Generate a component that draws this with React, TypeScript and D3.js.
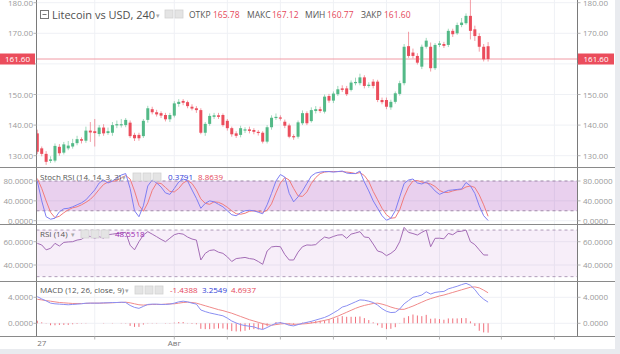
import React from 'react';
import * as d3 from 'd3';

// ---------- DATA ----------
const openP = [
  137.3,132.4,130.6,128.3,128.4,132.9,131.0,132.4,133.0,134.1,
  135.4,134.9,138.2,138.0,137.1,139.2,137.4,137.5,139.9,139.9,
  140.0,140.8,136.8,136.8,136.4,141.7,145.2,144.2,143.9,143.3,
  141.9,143.1,146.9,147.9,147.5,146.0,145.5,144.9,137.5,140.4,
  142.7,143.2,143.3,141.4,139.0,137.3,136.8,138.2,138.6,138.4,
  137.8,137.5,134.6,139.3,142.3,142.5,141.1,139.9,136.4,136.2,
  140.6,143.9,141.3,144.6,145.2,144.4,149.5,148.0,150.1,152.0,
  152.0,151.5,153.7,153.7,155.6,152.8,154.2,154.2,148.2,148.2,
  145.8,147.6,150.2,153.7,165.8,163.7,162.6,159.1,165.6,165.6,
  158.6,166.2,166.5,166.2,170.8,170.0,172.7,173.3,175.7,171.3,
  169.1,165.6,165.78,
];
const closeP = [
  131.3,130.6,128.0,128.8,133.2,130.8,133.7,133.3,134.1,135.4,
  134.9,138.2,137.6,137.4,139.2,137.3,138.0,140.0,140.3,140.3,
  141.7,136.4,135.7,135.7,141.4,145.5,144.2,143.5,143.1,141.9,
  143.3,147.1,147.6,147.3,146.2,145.4,144.9,137.5,140.4,143.0,
  143.2,142.7,140.0,139.0,137.0,136.5,139.0,138.6,138.1,137.8,
  137.5,134.6,139.3,142.4,142.7,142.2,139.8,136.2,136.0,140.9,
  143.9,140.6,144.9,145.2,144.6,149.3,148.0,150.3,151.7,151.5,
  150.1,153.9,154.1,155.6,152.8,153.2,152.8,148.2,147.5,146.0,
  147.6,150.4,153.7,165.6,162.6,162.6,160.4,165.6,167.6,158.6,
  166.2,166.7,165.9,170.8,169.7,172.7,173.5,175.7,170.8,169.1,
  165.6,161.5,161.6,
];
const highP = [
  138.5,133.0,131.5,129.8,134.0,133.8,134.5,134.8,135.5,136.5,
  136.0,139.5,141.0,142.0,140.0,140.3,139.2,141.0,141.5,142.0,
  142.3,141.5,137.5,137.5,142.0,146.3,146.0,145.0,144.5,144.0,
  144.0,147.8,148.5,148.5,148.0,146.8,146.2,145.5,141.0,143.8,
  144.0,144.0,143.8,142.0,139.5,138.0,139.8,139.3,139.5,139.0,
  138.4,138.0,140.0,143.2,143.8,143.2,141.8,140.5,137.0,141.5,
  144.8,144.5,145.8,146.2,146.0,150.0,150.2,151.0,152.8,153.0,
  152.8,154.6,155.5,156.8,156.3,154.0,155.0,154.8,149.0,149.0,
  148.3,151.0,154.5,166.5,170.5,165.0,163.5,166.3,168.5,167.0,
  166.8,167.5,167.2,171.5,171.5,173.5,175.0,176.5,181.0,172.5,
  170.0,166.5,167.12,
];
const lowP = [
  130.5,129.8,127.0,127.6,127.8,130.0,130.4,131.8,132.3,133.4,
  134.0,134.2,134.5,133.0,136.3,136.5,136.8,136.5,139.0,139.2,
  139.3,135.8,134.8,134.9,135.8,140.8,143.5,142.8,142.3,141.2,
  141.0,142.5,146.0,146.5,145.5,144.8,144.0,137.0,136.5,139.8,
  142.0,142.0,139.5,138.2,136.2,135.8,136.0,137.4,137.3,137.0,
  136.6,134.0,134.0,138.5,141.7,141.5,139.0,135.7,135.2,135.6,
  140.0,140.0,140.8,143.8,144.0,143.8,147.3,147.2,149.5,150.8,
  149.5,151.0,153.0,153.0,152.0,152.2,152.0,147.5,146.8,145.2,
  145.0,147.0,149.6,153.0,162.0,161.8,159.8,158.3,165.0,157.5,
  158.0,165.5,165.2,165.5,168.8,169.5,172.0,172.8,168.0,167.5,
  164.0,160.8,160.77,
];
const stochK = [
  80,40,8,3,5,18,24,25,28,32,
  36,42,52,62,76,82,76,80,86,92,
  95,65,20,8,30,70,82,76,68,56,
  53,65,78,84,80,62,45,25,35,40,
  38,33,28,20,12,10,16,20,21,20,
  17,14,32,55,80,93,88,55,38,48,
  60,75,90,96,98,99,99,98,99,100,
  96,95,95,100,78,60,40,25,10,1,
  5,20,48,75,82,84,76,74,78,70,
  60,53,57,61,62,63,64,77,70,55,
  30,10,0.3791,
];
const stochD = [
  85,65,40,17,6,9,16,22,26,28,
  32,37,43,52,63,73,78,79,81,86,
  91,84,60,31,19,36,61,76,75,67,
  59,58,65,76,81,75,62,44,35,33,
  38,37,33,27,20,14,13,15,19,20,
  19,17,21,34,56,76,87,82,65,50,
  49,58,75,87,95,98,99,99,99,99,
  98,97,95,97,91,79,59,42,25,12,
  5,6,22,48,68,80,81,78,76,74,
  69,61,57,57,60,62,63,68,70,67,
  52,32,8.8639,
];
const rsiV = [
  58.6,57.2,53,54.3,58.6,56.3,59.4,59.8,60,61.4,
  62,65,64.5,63,64.3,63,66,66.5,67,67.5,
  68,57,53,60,65.7,68.6,66.5,64.3,62,60,
  63,66,67.1,66.5,64,62.3,61.4,44.3,50,52.5,
  53,51,50,47,43,45.5,46,46.5,45.5,45,
  43,40.6,52,55.5,56,55.7,49,44.3,44.3,51,
  55.7,57.2,57,57.5,61,64,63,64.5,65.7,66,
  62.9,66.5,67.5,68.6,64,63.6,58,52,50.9,48,
  50,53,60,72.3,68,67,65.7,68,70,55.7,
  62.9,63,62.5,67.1,66,68.6,69,70,60,57.5,
  53,48.6,48.5518,
];
const macdV = [
  4.1,3.75,3.45,3.1,3.0,2.95,2.9,2.85,2.9,2.95,
  3.0,3.1,3.1,3.1,3.1,3.15,3.15,3.2,3.2,3.25,
  3.2,2.75,2.45,2.3,2.6,2.9,2.95,2.95,2.9,2.9,
  2.95,3.1,3.3,3.4,3.3,3.1,2.95,2.05,1.8,1.6,
  1.45,1.3,1.15,0.8,0.35,0.05,-0.2,-0.35,-0.45,-0.55,
  -0.8,-0.95,-0.65,-0.3,0.0,0.1,-0.05,-0.3,-0.4,-0.2,
  0.0,0.15,0.3,0.5,0.7,0.9,1.2,1.6,2.0,2.5,
  2.7,3.0,3.3,3.6,3.55,3.4,3.2,2.8,2.25,1.85,
  1.65,1.7,2.2,3.0,3.5,4.0,4.15,4.35,4.85,4.5,
  4.75,4.85,4.9,5.3,5.5,5.7,5.95,6.15,5.85,5.2,
  4.3,3.7,3.2549,
];
const signalV = [
  3.7,3.6,3.5,3.4,3.3,3.2,3.15,3.1,3.05,3.05,
  3.05,3.05,3.1,3.1,3.1,3.1,3.15,3.15,3.2,3.2,
  3.25,3.15,3.0,2.85,2.8,2.85,2.9,2.9,2.9,2.95,
  3.0,3.0,3.1,3.2,3.25,3.2,3.1,2.9,2.7,2.5,
  2.3,2.1,1.95,1.75,1.55,1.3,1.05,0.8,0.55,0.35,
  0.15,-0.05,-0.2,-0.3,-0.2,-0.1,-0.05,-0.1,-0.15,-0.15,
  -0.1,-0.05,0.05,0.15,0.3,0.45,0.6,0.85,1.1,1.4,
  1.7,2.0,2.3,2.55,2.75,2.9,3.05,3.1,2.95,2.75,
  2.5,2.3,2.15,2.15,2.4,2.65,2.95,3.25,3.55,3.8,
  4.0,4.2,4.35,4.55,4.75,4.95,5.15,5.35,5.55,5.6,
  5.45,5.1,4.6937,
];

const priceTicks = [130, 140, 150, 160, 170, 180];
const stochTicks = [0, 40, 80];
const stochBand = [20, 80];
const rsiTicks = [40, 60];
const rsiBand = [30, 70];
const macdTicks = [0, 4];
const gridIdx = [13, 31, 43, 55, 67, 79, 91, 105, 117];
const xTickIdx = [1, 31];
const xTickLabels = ['27', 'Авг'];
const lastPrice = 161.6;

// ---------- LAYOUT ----------
const W = 620, H = 354;
const XL = 36.5, XR = 577.5;
const P = { main: [0, 167.5], stoch: [167.5, 224.5], rsi: [224.5, 281.5], macd: [281.5, 336.5] };

const FONT = '"Open Sans", sans-serif';
const AX = '#9a9a9a';
const GRID = '#eff1f5';
const UP = '#53b987', DN = '#eb4d5c';
const LABRED = '#e5475a';

const x = d3.scaleLinear().domain([0, 102]).range([37.3, 488.1]);
const yMain = d3.scaleLinear().domain([130, 180]).range([155.7, 2.7]);
const yStoch = d3.scaleLinear().domain([0, 80]).range([220.7, 181]);
const yRsi = d3.scaleLinear().domain([40, 60]).range([265, 241.7]);
const yMacd = d3.scaleLinear().domain([0, 4]).range([323.3, 297.3]);

const Box = ({ x0, y0 }: { x0: number; y0: number }) => (
  <rect x={x0} y={y0} width={8} height={8} fill="#e4e4e4" stroke="#d2d2d2" strokeWidth={0.8} />
);

function lineOf(vals: number[], ys: d3.ScaleLinear<number, number>) {
  return d3.line<number>().x((_, i) => x(i)).y(v => ys(v))(vals) || '';
}

function AxisLabels({ ticks, ys, fmt, hide }: { ticks: number[]; ys: any; fmt: (v: number) => string; hide?: number }) {
  return (
    <g fontFamily={FONT} fontSize={8} fill={AX}>
      {ticks.map(t => (
        <g key={t}>
          <line x1={XL - 3} x2={XL} y1={ys(t)} y2={ys(t)} stroke="#b5b5b5" />
          <line x1={XR} x2={XR + 3} y1={ys(t)} y2={ys(t)} stroke="#b5b5b5" />
          {t !== hide && <text x={33} y={ys(t) + 3} textAnchor="end">{fmt(t)}</text>}
          {t !== hide && <text x={583} y={ys(t) + 3}>{fmt(t)}</text>}
        </g>
      ))}
    </g>
  );
}

function HGrid({ ticks, ys }: { ticks: number[]; ys: any }) {
  return (
    <g>
      {ticks.map(t => (
        <line key={t} x1={XL} x2={XR} y1={ys(t)} y2={ys(t)} stroke={GRID} />
      ))}
    </g>
  );
}

function VGrid({ y0, y1 }: { y0: number; y1: number }) {
  return (
    <g>
      {gridIdx.map(g => (
        <line key={g} x1={x(g)} x2={x(g)} y1={y0} y2={y1} stroke={GRID} />
      ))}
    </g>
  );
}

export default function App() {
  const bw = (x(1) - x(0)) * 0.68;
  const idx = d3.range(openP.length);
  const hist = macdV.map((m, i) => m - signalV[i]);
  const f2 = (v: number) => v.toFixed(2);
  const f4 = (v: number) => v.toFixed(4);

  return (
    <svg width={W} height={H} style={{ position: 'fixed', left: 0, top: 0, background: '#fff' }}>
      <defs>
        {Object.entries(P).map(([k, [a, b]]) => (
          <clipPath id={'c-' + k} key={k}>
            <rect x={XL} y={a} width={XR - XL} height={b - a} />
          </clipPath>
        ))}
      </defs>
      <rect x={0} y={0} width={W} height={H} fill="#fff" />

      {/* grids */}
      <HGrid ticks={priceTicks} ys={yMain} />
      <HGrid ticks={stochTicks} ys={yStoch} />
      <HGrid ticks={rsiTicks} ys={yRsi} />
      <HGrid ticks={macdTicks} ys={yMacd} />
      {Object.values(P).map(([a, b], i) => (
        <VGrid key={i} y0={a} y1={b} />
      ))}

      {/* main panel */}
      <g clipPath="url(#c-main)">
        <line x1={XL} x2={XR} y1={yMain(lastPrice)} y2={yMain(lastPrice)} stroke="#f19aa4" strokeWidth={1} />
        {idx.map(i => {
          const up = closeP[i] >= openP[i];
          const c = up ? UP : DN;
          const top = yMain(Math.max(openP[i], closeP[i]));
          const bot = yMain(Math.min(openP[i], closeP[i]));
          return (
            <g key={i}>
              <line x1={x(i)} x2={x(i)} y1={yMain(highP[i])} y2={yMain(lowP[i])} stroke={c} strokeOpacity={0.55} strokeWidth={1} />
              <rect x={x(i) - bw / 2} y={top} width={bw} height={Math.max(1.2, bot - top)} fill={c} />
            </g>
          );
        })}
      </g>

      {/* stoch RSI */}
      <g clipPath="url(#c-stoch)">
        <rect x={XL} y={yStoch(stochBand[1])} width={XR - XL} height={yStoch(stochBand[0]) - yStoch(stochBand[1])} fill="#9c27b0" fillOpacity={0.22} />
        {stochBand.map(b => (
          <line key={b} x1={XL} x2={XR} y1={yStoch(b)} y2={yStoch(b)} stroke="#a08aa8" strokeDasharray="3,3" />
        ))}
        <path d={lineOf(stochD, yStoch)} fill="none" stroke="#f07b7b" strokeWidth={1} />
        <path d={lineOf(stochK, yStoch)} fill="none" stroke="#7e7ef2" strokeWidth={1} />
      </g>

      {/* RSI */}
      <g clipPath="url(#c-rsi)">
        <rect x={XL} y={yRsi(rsiBand[1])} width={XR - XL} height={yRsi(rsiBand[0]) - yRsi(rsiBand[1])} fill="#9c27b0" fillOpacity={0.08} />
        {rsiBand.map(b => (
          <line key={b} x1={XL} x2={XR} y1={yRsi(b)} y2={yRsi(b)} stroke="#b09cb8" strokeDasharray="3,3" />
        ))}
        <path d={lineOf(rsiV, yRsi)} fill="none" stroke="#a36cb5" strokeWidth={1} />
      </g>

      {/* MACD */}
      <g clipPath="url(#c-macd)">
        {hist.map((h, i) => (
          <line key={i} x1={x(i)} x2={x(i)} y1={yMacd(0)} y2={yMacd(h)} stroke="#f0707c" strokeWidth={1} />
        ))}
        <path d={lineOf(signalV, yMacd)} fill="none" stroke="#f08a8a" strokeWidth={1} />
        <path d={lineOf(macdV, yMacd)} fill="none" stroke="#8a8ff2" strokeWidth={1} />
      </g>

      {/* axes lines / separators */}
      <line x1={XL} x2={XL} y1={0} y2={336.5} stroke="#7a7a7a" />
      <line x1={XR} x2={XR} y1={0} y2={336.5} stroke="#7a7a7a" />
      {[P.main[1], P.stoch[1], P.rsi[1], P.macd[1]].map((yy, i) => (
        <line key={i} x1={0} x2={615} y1={yy} y2={yy} stroke="#8a8a8a" />
      ))}

      {/* axis labels (160.00 sits behind the last-price box) */}
      <AxisLabels ticks={priceTicks} ys={yMain} fmt={f2} hide={160} />
      <AxisLabels ticks={stochTicks} ys={yStoch} fmt={f4} />
      <AxisLabels ticks={rsiTicks} ys={yRsi} fmt={f4} />
      <AxisLabels ticks={macdTicks} ys={yMacd} fmt={f4} />

      {/* last price labels */}
      <g fontFamily={FONT} fontSize={8} fill="#fff">
        <rect x={0} y={yMain(lastPrice) - 5.5} width={35} height={11} fill={DN} />
        <text x={17.5} y={yMain(lastPrice) + 3} textAnchor="middle">{f2(lastPrice)}</text>
        <rect x={578} y={yMain(lastPrice) - 5.5} width={36} height={11} fill={DN} />
        <text x={596} y={yMain(lastPrice) + 3} textAnchor="middle">{f2(lastPrice)}</text>
      </g>

      {/* x axis */}
      <g fontFamily={FONT} fontSize={8} fill="#777">
        {gridIdx.map(g => (
          <line key={g} x1={x(g)} x2={x(g)} y1={336.5} y2={339.5} stroke="#b5b5b5" />
        ))}
        {xTickIdx.map((t, i) => (
          <text key={t} x={x(t)} y={346} textAnchor="middle">{xTickLabels[i]}</text>
        ))}
      </g>

      {/* legends */}
      <g fontFamily={FONT}>
        <rect x={40.5} y={10.5} width={8} height={8} fill="none" stroke="#777" />
        <line x1={42.5} x2={46.5} y1={14.5} y2={14.5} stroke="#777" />
        <text x={52} y={18.5} fontSize={11} fill="#4f4f4f">Litecoin vs USD, 240</text>
        <text x={156} y={17.5} fontSize={7} fill="#aaa">▾</text>
        <Box x0={165} y0={10} />
        <Box x0={175} y0={10} />
        <g fontSize={8.5}>
          <text x={189} y={17.5} fill="#555">ОТКР</text>
          <text x={213} y={17.5} fill={LABRED}>165.78</text>
          <text x={247} y={17.5} fill="#555">МАКС</text>
          <text x={272} y={17.5} fill={LABRED}>167.12</text>
          <text x={305} y={17.5} fill="#555">МИН</text>
          <text x={327} y={17.5} fill={LABRED}>160.77</text>
          <text x={361} y={17.5} fill="#555">ЗАКР</text>
          <text x={384} y={17.5} fill={LABRED}>161.60</text>
        </g>

        <g fontSize={8}>
          <text x={40} y={180} fill="#555">Stoch RSI (14, 14, 3, 3)</text>
          <text x={122} y={180} fontSize={7} fill="#aaa">▾</text>
          <Box x0={133} y0={173} />
          <Box x0={143} y0={173} />
          <Box x0={153} y0={173} />
          <text x={168} y={180} fill="#2f3bd6">0.3791</text>
          <text x={198} y={180} fill={LABRED}>8.8639</text>

          <text x={40} y={237} fill="#555">RSI (14)</text>
          <text x={71} y={237} fontSize={7} fill="#aaa">▾</text>
          <Box x0={81} y0={230} />
          <Box x0={91} y0={230} />
          <Box x0={101} y0={230} />
          <text x={115} y={237} fill="#9c27b0">48.5518</text>

          <text x={40} y={293} fill="#555">MACD (12, 26, close, 9)</text>
          <text x={125} y={293} fontSize={7} fill="#aaa">▾</text>
          <Box x0={135} y0={286} />
          <Box x0={145} y0={286} />
          <Box x0={155} y0={286} />
          <text x={170} y={293} fill={LABRED}>-1.4388</text>
          <text x={202} y={293} fill="#2f3bd6">3.2549</text>
          <text x={231} y={293} fill={LABRED}>4.6937</text>
        </g>
      </g>

      {/* outer frame strips */}
      <rect x={615} y={0} width={5} height={H} fill="#e9ebef" />
      <rect x={0} y={349} width={W} height={5} fill="#e9ebef" />
    </svg>
  );
}
